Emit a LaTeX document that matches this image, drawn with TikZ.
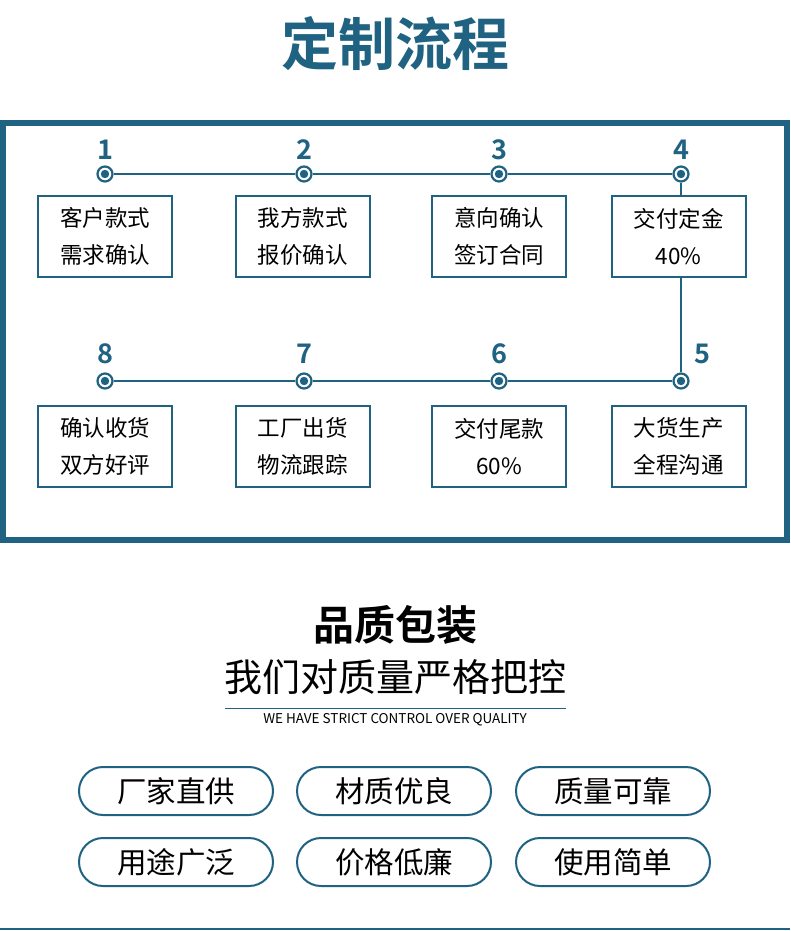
\documentclass[tikz,border=0pt]{standalone}
\usepackage{fontspec}
\newfontfamily\cjk{Noto Sans CJK SC}
\newfontfamily\cjkb{Noto Sans CJK SC Bold}
\definecolor{mb}{HTML}{1F6282}
\begin{document}
\begin{tikzpicture}[x=1pt,y=-1pt,
  dot/.style={circle,draw=mb,line width=2.2pt,fill=white,minimum size=15pt,inner sep=0pt,path picture={\fill[mb] (path picture bounding box.center) circle (4.2pt);}},
  num/.style={font=\cjkb\fontsize{27}{27}\selectfont,text=mb},
  box/.style={draw=mb,line width=2pt,minimum width=134pt,minimum height=81pt,align=center,font=\cjk\fontsize{22.5}{37}\selectfont},
  pill/.style={draw=mb,line width=2pt,rounded corners=24pt,minimum width=194pt,minimum height=48pt,font=\cjk\fontsize{29.5}{30}\selectfont},
  link/.style={mb,line width=2pt}]
\useasboundingbox (0,0) rectangle (790,931);
\fill[white] (0,0) rectangle (790,931);
\node[font=\cjkb\fontsize{57}{57}\selectfont,text=mb] (title) at (395,44) {定制流程};
\draw[mb,line width=6pt] (3,123) rectangle (787,540);
% row 1
\node[dot] (c1) at (105,174) {};
\node[dot] (c2) at (304,174) {};
\node[dot] (c3) at (499,174) {};
\node[dot] (c4) at (681,174) {};
\node[num] (n1) at (105,150) {1};
\node[num] (n2) at (304,150) {2};
\node[num] (n3) at (499,150) {3};
\node[num] (n4) at (681,150) {4};
\node[box] (b1) at (105,236.5) {客户款式\\需求确认};
\node[box] (b2) at (302.5,236.5) {我方款式\\报价确认};
\node[box] (b3) at (499,236.5) {意向确认\\签订合同};
\node[box] (b4) at (678.5,236.5) {交付定金\\40\%};
% row 2
\node[dot] (c8) at (105,381) {};
\node[dot] (c7) at (304,381) {};
\node[dot] (c6) at (499,381) {};
\node[dot] (c5) at (681,381) {};
\node[num] (n8) at (105,354) {8};
\node[num] (n7) at (304,354) {7};
\node[num] (n6) at (499,354) {6};
\node[num] (n5) at (702,354) {5};
\node[box] (b8) at (105,446.5) {确认收货\\双方好评};
\node[box] (b7) at (302.5,446.5) {工厂出货\\物流跟踪};
\node[box] (b6) at (499,446.5) {交付尾款\\60\%};
\node[box] (b5) at (678.5,446.5) {大货生产\\全程沟通};
\draw[link] (c1) -- (c2) (c2) -- (c3) (c3) -- (c4);
\draw[link] (c8) -- (c7) (c7) -- (c6) (c6) -- (c5);
\draw[link] (c4) -- (c4 |- b4.north);
\draw[link] (c5 |- b4.south) -- (c5);
% lower part
\node[font=\cjkb\fontsize{41}{41}\selectfont] (h2) at (395,625) {品质包装};
\node[font=\cjk\fontsize{38}{38}\selectfont] (h3) at (395,677) {我们对质量严格把控};
\coordinate (l1) at (225,708); \coordinate (l2) at (566,708);
\draw[mb,line width=1pt] (l1) -- (l2);
\node[font=\cjk\fontsize{13.5}{14}\selectfont] (en) at (395,720) {WE HAVE STRICT CONTROL OVER QUALITY};
\node[pill] (p1) at (176,791) {厂家直供};
\node[pill] (p2) at (394,791) {材质优良};
\node[pill] (p3) at (613,791) {质量可靠};
\node[pill] (p4) at (176,862) {用途广泛};
\node[pill] (p5) at (394,862) {价格低廉};
\node[pill] (p6) at (613,862) {使用简单};
\coordinate (e1) at (0,929); \coordinate (e2) at (790,929);
\draw[mb,line width=1.5pt] (e1) -- (e2);
\end{tikzpicture}
\end{document}
